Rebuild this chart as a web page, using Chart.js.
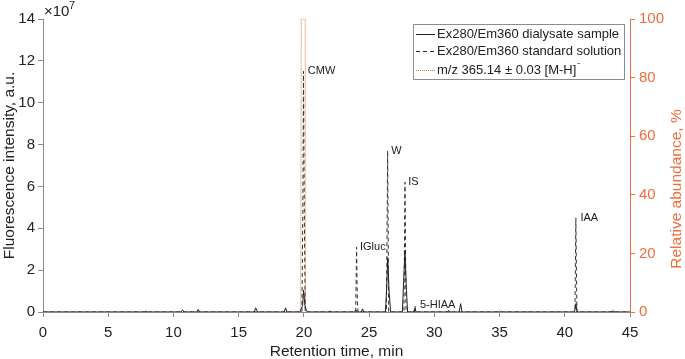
<!DOCTYPE html>
<html>
<head>
<meta charset="utf-8">
<script src="https://cdn.jsdelivr.net/npm/chart.js@4"></script>
<style>
  body { margin: 0; background: #fff; }
  #wrap { width: 685px; height: 359px; position: relative; }
</style>
</head>
<body>
<div id="wrap"><canvas id="chart"></canvas></div>
<script>
// 시료 (실선), 단위 1e7
const sampleTime = [0, 7.8, 7.9, 8.0, 10.6, 10.7, 10.8, 11.8, 11.9, 12.0, 16.2, 16.3, 16.45, 18.5, 18.6, 18.7,
    19.7, 19.8, 19.9, 19.98, 20.08, 20.2, 20.3, 21.9, 22.0, 22.1, 23.9, 24.0, 24.1, 24.4, 24.5, 24.6,
    26.25, 26.35, 26.43, 26.53, 26.65, 27.55, 27.65, 27.75, 27.85, 27.95, 28.4, 28.5, 28.6,
    31.0, 31.1, 31.2, 31.9, 32.02, 32.12, 34.9, 35.0, 35.1, 40.75, 40.85, 40.95, 43.5, 43.7, 43.9, 45];
const sampleValue = [0, 0, 0.05, 0, 0, 0.1, 0, 0, 0.12, 0, 0, 0.2, 0, 0, 0.2, 0,
    0, 0.15, 0.3, 1.05, 0.3, 0.05, 0, 0, 0.05, 0, 0, 0.1, 0, 0, 0.15, 0,
    0, 1.2, 2.6, 1.0, 0, 0, 1.5, 2.95, 1.2, 0, 0, 0.15, 0,
    0, 0.08, 0, 0, 0.4, 0, 0, 0.05, 0, 0, 0.4, 0, 0, 0.05, 0, 0];

// 표준용액 (점선)
const standardTime = [0, 19.85, 19.92, 19.97, 20.03, 20.1, 23.97, 24.04, 24.1, 24.15,
    26.33, 26.42, 26.5, 27.67, 27.75, 27.83, 28.46, 28.52, 28.58, 40.78, 40.85, 40.93, 45];
const standardValue = [0, 0, 5, 11.5, 5, 0, 0, 3.1, 0.5, 0,
    0, 7.7, 0, 0, 6.2, 0, 0, 0.3, 0, 0, 4.5, 0, 0];

// m/z 365.14 (오른쪽 축, %)
const msTime = [0, 19.75, 19.8, 20.1, 20.12, 45];
const msValue = [0, 0, 100, 100, 0, 0];

// 피크 이름표
const peakNames = ["CMW", "W", "IS", "IGluc", "5-HIAA", "IAA"];
const peakTime = [20.3, 26.7, 28.0, 24.3, 28.9, 41.2];
const peakValue = [11.5, 7.7, 6.2, 3.1, 0.35, 4.5];

const xTicks = [0, 5, 10, 15, 20, 25, 30, 35, 40, 45];

const ORANGE = "#EF6C3E";
const GREY = "#8c8c8c";
const FONT = "'Liberation Sans', Arial, sans-serif";

function toPoints(xs, ys) {
    return xs.map((x, i) => ({x: x, y: ys[i]}));
}

const extras = {
    id: "extras",
    afterDraw(chart) {
        const ctx = chart.ctx;
        const x = chart.scales.x, y = chart.scales.y;
        const area = chart.chartArea;
        ctx.save();
        // 피크 이름
        ctx.fillStyle = "#222";
        ctx.font = "11px " + FONT;
        ctx.textBaseline = "middle";
        ctx.textAlign = "left";
        peakNames.forEach((name, i) => {
            ctx.fillText(name, x.getPixelForValue(peakTime[i]), y.getPixelForValue(peakValue[i]));
        });
        // x10^7
        ctx.font = "15px " + FONT;
        ctx.textBaseline = "alphabetic";
        ctx.fillText("\u00d710", area.left + 1, 16);
        ctx.font = "11px " + FONT;
        ctx.fillText("7", area.left + 26, 9);
        // 오른쪽 축 제목
        ctx.save();
        ctx.translate(677, 189);
        ctx.rotate(-Math.PI / 2);
        ctx.textAlign = "center";
        ctx.textBaseline = "middle";
        ctx.fillStyle = ORANGE;
        ctx.font = "15.5px " + FONT;
        ctx.fillText("Relative abundance, %", 0, 0);
        ctx.restore();
        // 범례
        const bx = 413, by = 24, bw = 211, bh = 55;
        ctx.fillStyle = "#fff";
        ctx.fillRect(bx, by, bw, bh);
        ctx.strokeStyle = GREY;
        ctx.lineWidth = 1;
        ctx.strokeRect(bx + 0.5, by + 0.5, bw, bh);
        const rows = [
            {text: "Ex280/Em360 dialysate sample", color: "#222", dash: [], y: 34},
            {text: "Ex280/Em360 standard solution", color: "#222", dash: [4, 3], y: 51},
            {text: "m/z 365.14 \u00b1 0.03 [M-H]", color: ORANGE, dash: [1, 1], y: 70},
        ];
        rows.forEach(r => {
            ctx.beginPath();
            ctx.setLineDash(r.dash);
            ctx.strokeStyle = r.color;
            ctx.moveTo(416, r.y + 0.5);
            ctx.lineTo(435, r.y + 0.5);
            ctx.stroke();
            ctx.setLineDash([]);
            ctx.fillStyle = "#222";
            ctx.font = "13px " + FONT;
            ctx.textBaseline = "middle";
            ctx.textAlign = "left";
            ctx.fillText(r.text, 437, r.y);
        });
        const w = ctx.measureText(rows[2].text).width;
        ctx.font = "9px " + FONT;
        ctx.fillText("-", 437 + w + 1, 64);
        ctx.restore();
    }
};

new Chart(document.getElementById("chart"), {
    type: "line",
    data: {
        datasets: [
            {label: "Ex280/Em360 dialysate sample", data: toPoints(sampleTime, sampleValue),
             borderColor: "#222", borderWidth: 1, yAxisID: "y"},
            {label: "Ex280/Em360 standard solution", data: toPoints(standardTime, standardValue),
             borderColor: "#333", borderWidth: 1, borderDash: [4, 3], yAxisID: "y"},
            {label: "m/z 365.14 ± 0.03 [M-H]-", data: toPoints(msTime, msValue),
             borderColor: ORANGE, borderWidth: 1, borderDash: [1, 1], yAxisID: "y2"},
        ],
    },
    options: {
        responsive: true,
        maintainAspectRatio: false,
        animation: false,
        elements: {point: {radius: 0}, line: {tension: 0}},
        layout: {padding: {top: 19}},
        plugins: {legend: {display: false}, tooltip: {enabled: false}},
        scales: {
            x: {
                type: "linear", min: 0, max: 45,
                afterBuildTicks: s => { s.ticks = xTicks.map(v => ({value: v})); },
                afterFit: s => { s.height = 47; },
                ticks: {color: "#222", font: {family: FONT, size: 15}, padding: 7, maxRotation: 0},
                grid: {drawOnChartArea: false, tickLength: 5, color: GREY},
                border: {color: GREY},
                title: {display: true, text: "Retention time, min", color: "#222",
                        font: {family: FONT, size: 15.5}, padding: {top: 0, bottom: -2}},
            },
            y: {
                position: "left", min: 0, max: 14,
                ticks: {stepSize: 2, color: "#222", font: {family: FONT, size: 15}, padding: 3},
                afterFit: s => { s.width = 43; },
                grid: {drawOnChartArea: false, tickLength: 5, color: GREY},
                border: {color: GREY},
                title: {display: true, text: "Fluorescence intensity, a.u.", color: "#222",
                        font: {family: FONT, size: 15.5}, padding: {top: 0, bottom: 0}},
            },
            y2: {
                position: "right", min: 0, max: 100,
                ticks: {stepSize: 20, color: ORANGE, font: {family: FONT, size: 15}, padding: 4},
                afterFit: s => { s.width = 55; },
                grid: {drawOnChartArea: false, tickLength: 5, color: ORANGE},
                border: {color: ORANGE},
            },
        },
    },
    plugins: [extras],
});
</script>
</body>
</html>
